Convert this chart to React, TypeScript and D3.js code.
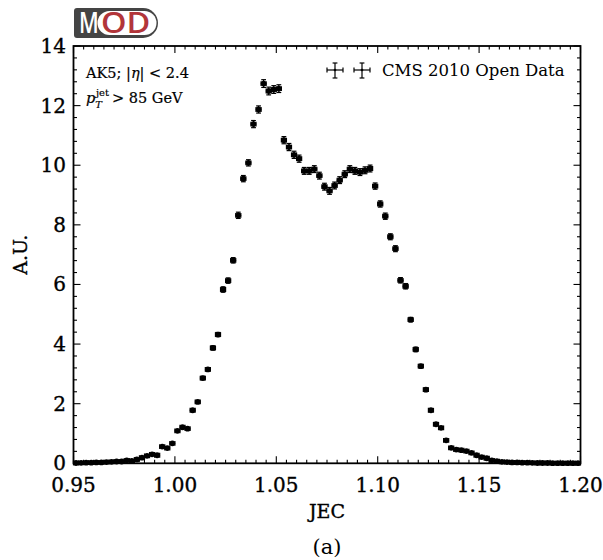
import React from "react";
import * as d3 from "d3";

// ---- data ----
const binEdgesStart = 0.95;
const binWidth = 0.0025;
const values = [
  0.01, 0.015, 0.02, 0.02, 0.03, 0.03, 0.04, 0.05, 0.06, 0.06,
  0.1, 0.08, 0.13, 0.19, 0.25, 0.3, 0.27, 0.56, 0.51, 0.67,
  1.09, 1.21, 1.16, 1.78, 2.06, 2.86, 3.15, 3.87, 4.32, 5.83,
  6.13, 6.81, 8.32, 9.55, 10.08, 11.38, 11.87, 12.74, 12.49, 12.54,
  12.57, 10.84, 10.61, 10.35, 10.22, 9.81, 9.81, 9.87, 9.65, 9.28,
  9.14, 9.32, 9.5, 9.7, 9.87, 9.81, 9.77, 9.83, 9.89, 9.3,
  8.7, 8.29, 7.6, 7.2, 6.14, 5.94, 4.82, 3.82, 3.26, 2.47,
  1.78, 1.31, 1.19, 0.77, 0.52, 0.46, 0.44, 0.41, 0.35, 0.27,
  0.21, 0.17, 0.1, 0.07, 0.05, 0.04, 0.03, 0.03, 0.02, 0.02,
  0.015, 0.01, 0.01, 0.01, 0.005, 0.005, 0.005, 0.005, 0.005, 0.005,
];
const yErrors = [
  0.01, 0.01, 0.01, 0.01, 0.01, 0.01, 0.01, 0.01, 0.01, 0.01,
  0.015, 0.015, 0.015, 0.015, 0.015, 0.015, 0.015, 0.025, 0.025, 0.025,
  0.035, 0.035, 0.035, 0.05, 0.05, 0.06, 0.06, 0.07, 0.07, 0.09,
  0.09, 0.09, 0.105, 0.105, 0.105, 0.12, 0.12, 0.13, 0.13, 0.13,
  0.13, 0.12, 0.12, 0.12, 0.12, 0.115, 0.115, 0.115, 0.115, 0.115,
  0.115, 0.115, 0.115, 0.115, 0.115, 0.115, 0.115, 0.115, 0.115, 0.105,
  0.105, 0.105, 0.1, 0.1, 0.09, 0.09, 0.075, 0.075, 0.06, 0.06,
  0.045, 0.045, 0.045, 0.025, 0.025, 0.025, 0.025, 0.025, 0.025, 0.025,
  0.01, 0.01, 0.01, 0.01, 0.01, 0.01, 0.01, 0.01, 0.01, 0.01,
  0.01, 0.01, 0.01, 0.01, 0.01, 0.01, 0.01, 0.01, 0.01, 0.01,
];
const xTicks = [0.95, 1.0, 1.05, 1.1, 1.15, 1.2];
const xTickLabels = ["0.95", "1.00", "1.05", "1.10", "1.15", "1.20"];
const yTicks = [0, 2, 4, 6, 8, 10, 12, 14];
const yTickLabels = ["0", "2", "4", "6", "8", "10", "12", "14"];
const legendLabel = "CMS 2010 Open Data";
const xLabel = "JEC";
const yLabel = "A.U.";
const caption = "(a)";

const W = 603;
const H = 560;
const L = 73.5, R = 580.5, T = 46, B = 463.3;
const serif = "'DejaVu Serif', serif";

export default function App() {
  const x = d3.scaleLinear().domain([0.95, 1.2]).range([L, R]);
  const y = d3.scaleLinear().domain([0, 14]).range([B, T]);
  const minorX = d3.range(0, 51).map((k) => 0.95 + k * 0.005);
  const minorY = d3.range(0, 36).map((k) => k * 0.4);
  const pts = values.map((v, i) => ({
    c: binEdgesStart + binWidth * (i + 0.5),
    v,
    e: yErrors[i],
  }));
  const cap = 2.4;
  const sw = 1.2;

  const errBar = (cx: number, cy: number, xl: number, xr: number, yt: number, yb: number, key: any, r: number) => (
    <g key={key} stroke="#000" strokeWidth={sw} fill="none">
      <line x1={xl} x2={xr} y1={cy} y2={cy} />
      <line x1={xl} x2={xl} y1={cy - cap} y2={cy + cap} />
      <line x1={xr} x2={xr} y1={cy - cap} y2={cy + cap} />
      <line x1={cx} x2={cx} y1={yt} y2={yb} />
      <line x1={cx - cap} x2={cx + cap} y1={yt} y2={yt} />
      <line x1={cx - cap} x2={cx + cap} y1={yb} y2={yb} />
      {r > 0 && <circle cx={cx} cy={cy} r={r} fill="#000" stroke="none" />}
    </g>
  );

  const txtStroke = { stroke: "#000", strokeWidth: 0.35 } as any;

  return (
    <div style={{ position: "absolute", left: 0, top: 0 }}>
      <svg width={W} height={H} viewBox={`0 0 ${W} ${H}`} style={{ display: "block", background: "#fff" }}>
        <rect x={0} y={0} width={W} height={H} fill="#fff" />
        {/* Logo */}
        <g>
          <path
            d={`M 77 8 L 143 8 A 15 15 0 0 1 143 38 L 77 38 A 3 3 0 0 1 74 35 L 74 11 A 3 3 0 0 1 77 8 Z`}
            fill="#444"
          />
          <rect x={97.5} y={11} width={59} height={24} rx={12} ry={12} fill="#fff" />
          <text transform="translate(79,33) scale(0.74,1)" fontFamily="'Open Sans', sans-serif" fontWeight={600} fontSize={29} fill="#fff">M</text>
          <text transform="translate(101,33) scale(1.12,1)" fontFamily="'Open Sans', sans-serif" fontWeight={600} fontSize={29} fill="#b2353a">OD</text>
        </g>

        {/* ticks */}
        <g stroke="#000" strokeWidth={1.1}>
          {minorX.map((t, k) => {
            const major = k % 10 === 0;
            const len = major ? 7 : 3.5;
            const px = x(t);
            return (
              <g key={"mx" + k}>
                <line x1={px} x2={px} y1={B} y2={B - len} />
                <line x1={px} x2={px} y1={T} y2={T + len} />
              </g>
            );
          })}
          {minorY.map((t, k) => {
            const major = k % 5 === 0;
            const len = major ? 7 : 3.5;
            const py = y(t);
            return (
              <g key={"my" + k}>
                <line x1={L} x2={L + len} y1={py} y2={py} />
                <line x1={R} x2={R - len} y1={py} y2={py} />
              </g>
            );
          })}
        </g>

        {/* data */}
        {pts.map((p, i) => {
          const cx = x(p.c);
          const cy = y(p.v);
          return errBar(
            cx,
            cy,
            x(p.c - binWidth / 2),
            x(p.c + binWidth / 2),
            y(p.v + p.e),
            y(p.v - p.e),
            "p" + i,
            2.9
          );
        })}

        {/* frame */}
        <rect x={L} y={T} width={R - L} height={B - T} fill="none" stroke="#000" strokeWidth={1.8} />

        {/* tick labels */}
        {xTicks.map((t, k) => (
          <text key={"xt" + k} x={x(t)} y={492} textAnchor="middle" fontFamily={serif} fontSize={20} fill="#000" {...txtStroke}>
            {xTickLabels[k]}
          </text>
        ))}
        {yTicks.map((t, k) => (
          <text key={"yt" + k} x={66} y={y(t) + 7} textAnchor="end" fontFamily={serif} fontSize={20} fill="#000" {...txtStroke}>
            {yTickLabels[k]}
          </text>
        ))}

        {/* axis labels */}
        <text x={(L + R) / 2} y={518} textAnchor="middle" fontFamily={serif} fontSize={19} fill="#000" {...txtStroke}>{xLabel}</text>
        <text transform={`translate(27,${(T + B) / 2}) rotate(-90)`} textAnchor="middle" fontFamily={serif} fontSize={19} fill="#000" {...txtStroke}>{yLabel}</text>
        <text x={(L + R) / 2} y={554} textAnchor="middle" fontFamily={serif} fontSize={21} fill="#000">{caption}</text>

        {/* annotations */}
        <text x={86} y={78} fontFamily={serif} fontSize={14.5} fill="#000" stroke="#000" strokeWidth={0.2}>
          AK5; |<tspan fontStyle="italic">η</tspan>| &lt; 2.4
        </text>
        <text x={86} y={103} fontFamily={serif} fontSize={14.5} fill="#000" stroke="#000" strokeWidth={0.2}>
          <tspan fontStyle="italic">p</tspan>
          <tspan fontStyle="italic" fontSize={10} dy={5}>T</tspan>
          <tspan fontSize={10} dx={-6} dy={-12}>jet</tspan>
          <tspan dy={7} dx={3}>&gt; 85 GeV</tspan>
        </text>

        {/* legend */}
        {[335, 362].map((cx, k) =>
          errBar(cx, 70, cx - 8, cx + 8, 63, 78, "lg" + k, 1.3)
        )}
        <text x={382} y={76} fontFamily={serif} fontSize={16.5} fill="#000">{legendLabel}</text>
      </svg>
    </div>
  );
}
